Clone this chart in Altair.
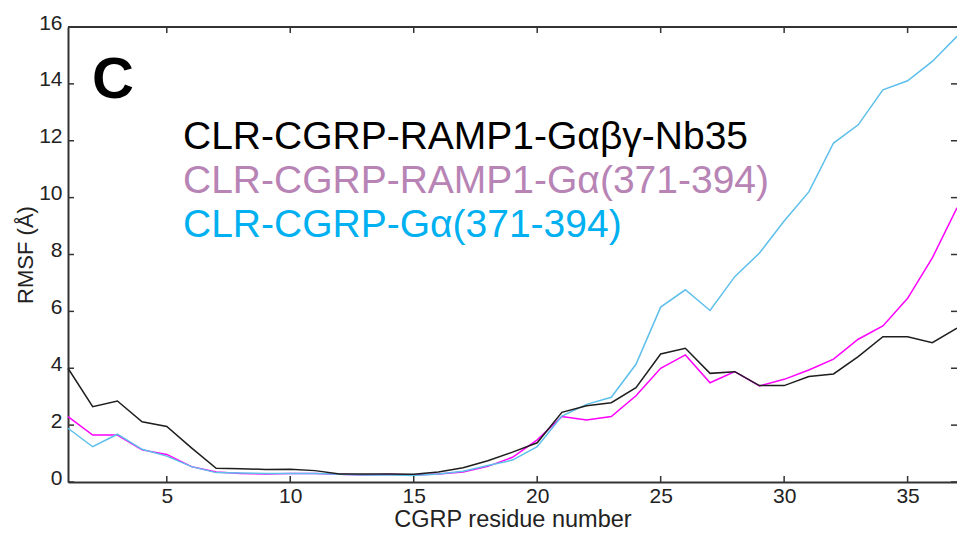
import altair as alt
import pandas as pd

# ---- data ----
residues = list(range(1, 38))
rmsf_nb35 = [4.0, 2.65, 2.85, 2.12, 1.95, 1.2, 0.48, 0.47, 0.44, 0.45,
             0.40, 0.28, 0.28, 0.28, 0.27, 0.35, 0.50, 0.75, 1.05, 1.38,
             2.45, 2.68, 2.79, 3.32, 4.5, 4.7, 3.82, 3.88, 3.39, 3.39,
             3.71, 3.80, 4.41, 5.11, 5.11, 4.9, 5.41]
rmsf_ramp1_ga = [2.30, 1.65, 1.65, 1.13, 0.97, 0.54, 0.35, 0.30, 0.28, 0.30,
                 0.30, 0.27, 0.25, 0.27, 0.25, 0.28, 0.35, 0.55, 0.87, 1.48,
                 2.30, 2.18, 2.30, 3.03, 4.0, 4.47, 3.49, 3.88, 3.38, 3.61,
                 3.94, 4.32, 5.02, 5.49, 6.46, 7.88, 9.64]
rmsf_ga = [1.89, 1.24, 1.68, 1.15, 0.91, 0.54, 0.33, 0.32, 0.30, 0.30,
           0.30, 0.27, 0.25, 0.25, 0.23, 0.28, 0.38, 0.58, 0.77, 1.24,
           2.32, 2.73, 2.98, 4.14, 6.15, 6.76, 6.03, 7.22, 8.05, 9.18,
           10.2, 11.92, 12.56, 13.79, 14.11, 14.79, 15.67]
series_names = ["CLR-CGRP-RAMP1-Gαβγ-Nb35",
                "CLR-CGRP-RAMP1-Gα(371-394)",
                "CLR-CGRP-Gα(371-394)"]
x_ticks = [5, 10, 15, 20, 25, 30, 35]
y_ticks = [0, 2, 4, 6, 8, 10, 12, 14, 16]
panel_label = "C"

# ---- styling ----
W, H = 889, 455
FONT = "Liberation Sans"
AX = "#333333"
line_colors = {"nb35": "#1e1e1e", "ramp1": "#ff00ff", "ga": "#5dbfea"}
text_colors = ["#000000", "#b784b5", "#00b0f0"]

frames = []
for key, vals in [("ramp1", rmsf_ramp1_ga), ("ga", rmsf_ga), ("nb35", rmsf_nb35)]:
    frames.append(pd.DataFrame({"residue": residues, "rmsf": vals, "series": key}))

x_scale = alt.Scale(domain=[1, 37], nice=False, zero=False)
y_scale = alt.Scale(domain=[0, 16], nice=False, zero=False)

x_axis = alt.Axis(values=x_ticks, title="CGRP residue number", ticks=False,
                  grid=False, domain=True, domainColor=AX, domainWidth=2,
                  labelFont=FONT, labelFontSize=21, labelColor="#222222",
                  labelPadding=3, labelFlush=False,
                  titleFont=FONT, titleFontSize=23.5, titleFontWeight="normal",
                  titleColor="#222222", titleBaseline="alphabetic", titleY=44)
y_axis = alt.Axis(values=y_ticks, title="RMSF  (Å)", ticks=False,
                  grid=False, domain=True, domainColor=AX, domainWidth=2,
                  labelFont=FONT, labelFontSize=21, labelColor="#222222",
                  labelPadding=6, labelOffset=-4, labelFlush=False,
                  titleFont=FONT, titleFontSize=22, titleFontWeight="normal",
                  titleColor="#222222", titleBaseline="alphabetic", titleX=-36)

layers = []
for f in frames:
    key = f["series"].iloc[0]
    layers.append(
        alt.Chart(f).mark_line(color=line_colors[key], strokeWidth=1.5).encode(
            x=alt.X("residue:Q", scale=x_scale, axis=x_axis),
            y=alt.Y("rmsf:Q", scale=y_scale, axis=y_axis),
        )
    )

xt = pd.DataFrame({"residue": x_ticks})
yt = pd.DataFrame({"rmsf": y_ticks})
TL = 6
tick_style = dict(color=AX, strokeWidth=1.5)
layers.append(alt.Chart(xt).mark_rule(**tick_style).encode(
    x=alt.X("residue:Q", scale=x_scale, axis=x_axis), y=alt.value(H), y2=alt.value(H - TL)))
layers.append(alt.Chart(xt).mark_rule(**tick_style).encode(
    x=alt.X("residue:Q", scale=x_scale, axis=x_axis), y=alt.value(0), y2=alt.value(TL)))
layers.append(alt.Chart(yt).mark_rule(**tick_style).encode(
    y=alt.Y("rmsf:Q", scale=y_scale, axis=y_axis), x=alt.value(0), x2=alt.value(TL)))
layers.append(alt.Chart(yt).mark_rule(**tick_style).encode(
    y=alt.Y("rmsf:Q", scale=y_scale, axis=y_axis), x=alt.value(W - TL), x2=alt.value(W)))
# top frame line
layers.append(alt.Chart(pd.DataFrame({"a": [0]})).mark_rule(color=AX, strokeWidth=2).encode(
    x=alt.value(0), x2=alt.value(W), y=alt.value(0)))

# panel label
layers.append(alt.Chart(pd.DataFrame({"a": [0]})).mark_text(
    text=panel_label, font=FONT, fontSize=58, fontWeight="bold", color="#000000",
    align="left", baseline="alphabetic").encode(x=alt.value(24), y=alt.value(71)))

# coloured legend text
for i, (name, col) in enumerate(zip(series_names, text_colors)):
    layers.append(alt.Chart(pd.DataFrame({"a": [0]})).mark_text(
        text=name, font=FONT, fontSize=39, color=col,
        align="left", baseline="alphabetic").encode(
            x=alt.value(115), y=alt.value(122 + i * 44)))

chart = alt.layer(*layers).properties(
    width=W, height=H,
    autosize=alt.AutoSizeParams(type="none"),
    padding={"left": 68, "top": 27, "right": 0, "bottom": 52},
    background="white",
).configure_view(stroke=None)

chart.save("out.html", embed_options={"renderer": "svg", "actions": False})
